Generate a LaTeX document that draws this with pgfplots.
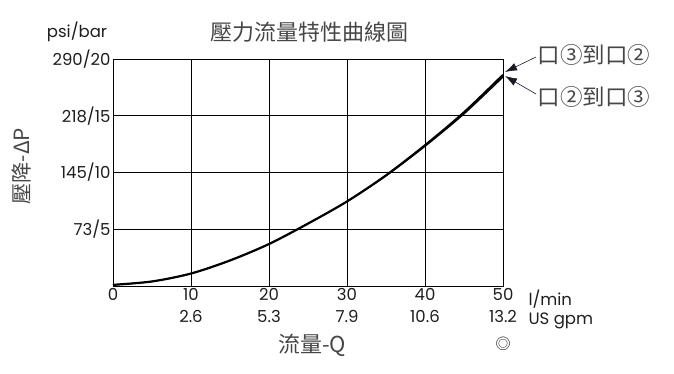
\documentclass[border=0pt]{standalone}
\usepackage{fontspec}
\setmainfont{Poppins}
\newfontfamily\cjk{Noto Sans CJK TC}
\usepackage{pgfplots}
\pgfplotsset{compat=1.18}
\usetikzlibrary{arrows.meta}
\definecolor{txt}{RGB}{30,30,30}
\definecolor{cjkc}{RGB}{70,70,70}
\definecolor{arr}{RGB}{25,25,40}
\begin{document}
\begin{tikzpicture}[x=1bp,y=1bp]
\path[use as bounding box] (0,0) rectangle (674,373);
\begin{axis}[
  at={(113bp,87bp)}, anchor=south west, scale only axis,
  width=390bp, height=227bp,
  xmin=0, xmax=50, ymin=0, ymax=20,
  xtick={0,10,20,30,40,50},
  xticklabels={0,{10\\2.6},{20\\5.3},{30\\7.9},{40\\10.6},{50\\13.2}},
  ytick={5,10,15,20},
  yticklabels={73/5,145/10,218/15,290/20},
  xticklabel style={align=center, font=\fontsize{16.5bp}{22bp}\selectfont, text=txt, yshift=1bp},
  yticklabel style={font=\fontsize{16.5bp}{18bp}\selectfont, text=txt, xshift=1bp},
  /pgf/number format/assume math mode=true,
  grid=major,
  major grid style={black, line width=0.9bp},
  axis line style={black, line width=0.9bp},
  tick style={draw=none},
  clip=false,
]
\addplot[black, line width=2.2bp, smooth] coordinates {
(0,0.1) (5,0.4) (10,1.1) (15,2.25) (20,3.7) (25,5.5) (30,7.45) (35,9.75) (40,12.4) (45,15.3) (50,18.6)};
\addplot[black, line width=1.1bp, smooth] coordinates {
(0,0.1) (5,0.4) (10,1.1) (15,2.25) (20,3.7) (25,5.5) (30,7.45) (35,9.7) (40,12.3) (45,15.15) (50,18.4)};
\end{axis}
\node[font=\fontsize{16.5bp}{18bp}\selectfont, text=txt] at (77,341) {psi/bar};
\node[font=\cjk\fontsize{22bp}{24bp}\selectfont, text=cjkc] at (309,341) {壓力流量特性曲線圖};
\node[font=\cjk\fontsize{21bp}{24bp}\selectfont, text=cjkc, rotate=90] at (22,207) {壓降-ΔP};
\node[font=\cjk\fontsize{22bp}{24bp}\selectfont, text=cjkc] at (312,28) {流量-Q};
\node[font=\cjk\fontsize{15bp}{18bp}\selectfont, text=txt] at (503,29) {◎};
\node[font=\fontsize{16.5bp}{18bp}\selectfont, text=txt, anchor=west] at (525,74) {l/min};
\node[font=\fontsize{16.5bp}{18bp}\selectfont, text=txt, anchor=west] at (525,52) {US gpm};
\node[font=\cjk\fontsize{22.5bp}{24bp}\selectfont, text=cjkc, anchor=west] at (534,318) {口③到口②};
\node[font=\cjk\fontsize{22.5bp}{24bp}\selectfont, text=cjkc, anchor=west] at (534,276) {口②到口③};
\draw[arr, line width=0.6bp, -{Latex[length=12bp,width=8bp]}] (536,316) -- (505,301);
\draw[arr, line width=0.6bp, -{Latex[length=12bp,width=8bp]}] (536,279) -- (505,297);
\end{tikzpicture}
\end{document}
